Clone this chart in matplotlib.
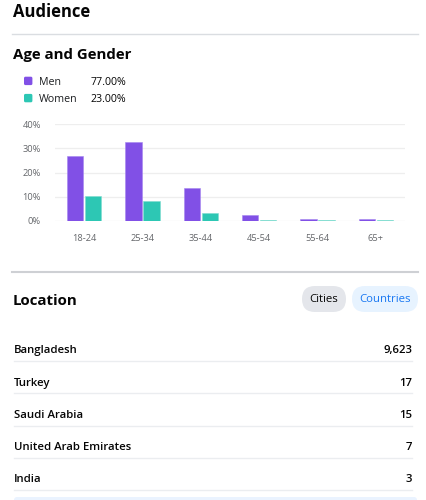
import matplotlib
matplotlib.use('Agg')
import matplotlib.pyplot as plt
from matplotlib.patches import FancyBboxPatch

# data
age_groups = ['18-24', '25-34', '35-44', '45-54', '55-64', '65+']
men_pct = [26.7, 32.4, 13.7, 2.5, 0.8, 0.9]
women_pct = [10.2, 8.4, 3.3, 0.4, 0.4, 0.5]
y_ticks = [0, 10, 20, 30, 40]

legend_labels = ['Men', 'Women']
legend_values = ['77.00%', '23.00%']

countries = ['Bangladesh', 'Turkey', 'Saudi Arabia', 'United Arab Emirates', 'India']
country_counts = [9623, 17, 15, 7, 3]

MEN_COLOR = '#8150E6'
WOMEN_COLOR = '#2DC7B4'
FONT = ['Open Sans', 'DejaVu Sans']

plt.rcParams['font.family'] = FONT

W, H = 426, 500
fig = plt.figure(figsize=(W / 100, H / 100), dpi=100)
fig.patch.set_facecolor('white')

# full-figure axes in pixel units for text and shapes
bg = fig.add_axes([0, 0, 1, 1])
bg.set_xlim(0, W)
bg.set_ylim(H, 0)
bg.axis('off')

# header
bg.text(13, 17.3, 'Audience', fontsize=12, fontweight='bold', va='baseline', color='#050505')
bg.plot([12, 418], [34, 34], color='#DADDE1', lw=1)
bg.text(13, 59, 'Age and Gender', fontsize=10.8, fontweight='bold', va='baseline', color='#050505')

# legend
for i, (lab, val, col) in enumerate(zip(legend_labels, legend_values, [MEN_COLOR, WOMEN_COLOR])):
    yb = 85.3 + i * 17.2
    bg.add_patch(FancyBboxPatch((24, yb - 8.6), 8.4, 8.4,
                                boxstyle='round,pad=0,rounding_size=1.5',
                                facecolor=col, edgecolor='none'))
    bg.text(39, yb, lab, fontsize=7.7, va='baseline', color='#1c1e21')
    bg.text(90.5, yb, val, fontsize=7.7, fontweight='medium', va='baseline', color='#050505')

# bar chart
ax = fig.add_axes([55 / W, (H - 221) / H, 350 / W, 97 / H])
x = list(range(len(age_groups)))
bw = 0.28
ax.bar([i - 0.155 for i in x], men_pct, width=bw, color=MEN_COLOR,
       edgecolor='#A585F0', linewidth=0.4, zorder=3)
ax.bar([i + 0.155 for i in x], women_pct, width=bw, color=WOMEN_COLOR,
       edgecolor='#7FDCCF', linewidth=0.4, zorder=3)
ax.set_xlim(-0.5, len(age_groups) - 0.5)
ax.set_ylim(0, 40)
ax.set_yticks(y_ticks)
ax.set_yticklabels([f'{t}%' for t in y_ticks])
ax.set_xticks(x)
ax.set_xticklabels(age_groups)
ax.grid(axis='y', color='#EEEEEE', lw=0.9, zorder=0)
ax.tick_params(axis='both', length=0, labelsize=6.7, colors='#65676B')
ax.tick_params(axis='y', pad=10)
ax.tick_params(axis='x', pad=9.5)
for s in ax.spines.values():
    s.set_visible(False)
ax.set_facecolor('none')

# location section
bg.plot([12, 418], [271.5, 271.5], color='#CED0D4', lw=1.5)
bg.text(13, 305, 'Location', fontsize=10.8, fontweight='bold', va='baseline', color='#050505')

bg.add_patch(FancyBboxPatch((302, 286), 44, 26, boxstyle='round,pad=0,rounding_size=13',
                            facecolor='#E4E6EB', edgecolor='none'))
bg.text(324, 299, 'Cities', fontsize=8.2, fontweight='medium', ha='center', va='center', color='#050505')
bg.add_patch(FancyBboxPatch((352, 286), 66, 26, boxstyle='round,pad=0,rounding_size=13',
                            facecolor='#E7F3FF', edgecolor='none'))
bg.text(385, 299, 'Countries', fontsize=8.2, fontweight='medium', ha='center', va='center', color='#1877F2')

for i, (name, cnt) in enumerate(zip(countries, country_counts)):
    yb = 353.3 + i * 32.25
    bg.text(14, yb, name, fontsize=8.2, fontweight='semibold', va='baseline', color='#050505')
    bg.text(412, yb, f'{cnt:,}', fontsize=8.2, fontweight='semibold', ha='right', va='baseline', color='#050505')
    bg.plot([14, 412], [yb + 7.7, yb + 7.7], color='#EBEDF0', lw=1)

# top edge of the button below the list
bg.add_patch(FancyBboxPatch((14, 497), 403, 8, boxstyle='round,pad=0,rounding_size=3',
                            facecolor='#EAF3FF', edgecolor='none'))

fig.savefig('out.png', dpi=100, facecolor='white')
